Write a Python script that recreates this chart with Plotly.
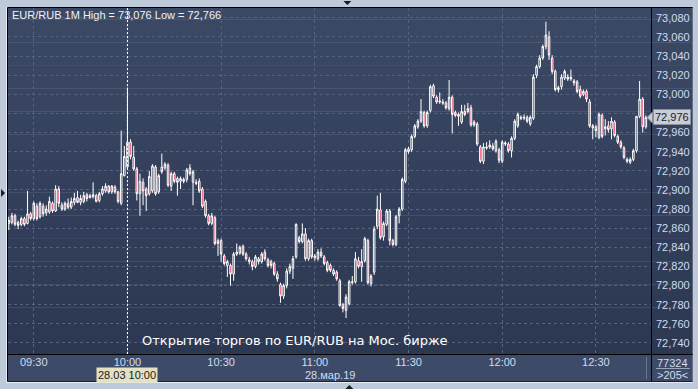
import plotly.graph_objects as go
import pandas as pd

# ---------------- data (EUR/RUB, 1-minute candles, 28.03.2019) ----------------
start_time = "2019-03-28 09:22"
opens = [72.865, 72.866, 72.873, 72.866, 72.864, 72.870, 72.865, 72.875, 72.870, 72.883,
         72.872, 72.883, 72.876, 72.877, 72.886, 72.878, 72.901, 72.884, 72.880, 72.886,
         72.882, 72.887, 72.892, 72.887, 72.888, 72.895, 72.892, 72.893, 72.894, 72.889,
         72.896, 72.899, 72.904, 72.898, 72.903, 72.898, 72.886, 72.915, 72.924, 72.950,
         72.934, 72.922, 72.896, 72.908, 72.901, 72.896, 72.899, 72.924, 72.898, 72.924,
         72.923, 72.926, 72.904, 72.917, 72.912, 72.909, 72.911, 72.911, 72.923, 72.908,
         72.908, 72.909, 72.901, 72.888, 72.873, 72.865, 72.871, 72.847, 72.847, 72.831,
         72.821, 72.821, 72.812, 72.833, 72.834, 72.841, 72.833, 72.827, 72.825, 72.820,
         72.828, 72.825, 72.835, 72.827, 72.825, 72.823, 72.812, 72.801, 72.789, 72.800,
         72.815, 72.818, 72.830, 72.850, 72.846, 72.854, 72.828, 72.847, 72.831, 72.828,
         72.835, 72.830, 72.824, 72.821, 72.816, 72.814, 72.805, 72.780, 72.774, 72.781,
         72.803, 72.804, 72.826, 72.820, 72.826, 72.847, 72.802, 72.814, 72.862, 72.879,
         72.851, 72.864, 72.878, 72.847, 72.843, 72.873, 72.880, 72.909, 72.943, 72.942,
         72.956, 72.966, 72.972, 72.981, 72.967, 72.983, 73.009, 72.997, 72.992, 72.992,
         72.991, 72.985, 72.997, 72.981, 72.979, 72.971, 72.982, 72.982, 72.986, 72.971,
         72.969, 72.945, 72.930, 72.945, 72.945, 72.946, 72.941, 72.942, 72.930, 72.948,
         72.948, 72.941, 72.954, 72.967, 72.976, 72.975, 72.976, 72.969, 72.975, 73.020,
         73.029, 73.038, 73.050, 73.060, 73.038, 73.024, 73.007, 73.008, 73.017, 73.018,
         73.018, 73.014, 73.013, 73.005, 73.000, 73.003, 72.992, 72.967, 72.966, 72.955,
         72.978, 72.964, 72.967, 72.964, 72.971, 72.956, 72.950, 72.944, 72.932, 72.929,
         72.932, 72.941, 72.977, 72.995, 72.966]
highs = [72.872, 72.876, 72.875, 72.868, 72.872, 72.872, 72.899, 72.877, 72.888, 72.886,
         72.888, 72.886, 72.884, 72.893, 72.888, 72.905, 72.904, 72.887, 72.888, 72.891,
         72.892, 72.897, 72.899, 72.895, 72.898, 72.897, 72.896, 72.908, 72.896, 72.898,
         72.904, 72.907, 72.905, 72.905, 72.905, 72.899, 72.962, 72.946, 73.007, 72.953,
         72.946, 72.924, 72.917, 72.912, 72.903, 72.920, 72.927, 72.926, 72.917, 72.938,
         72.929, 72.928, 72.919, 72.919, 72.914, 72.914, 72.913, 72.923, 72.927, 72.921,
         72.911, 72.912, 72.903, 72.890, 72.875, 72.876, 72.873, 72.849, 72.849, 72.833,
         72.827, 72.823, 72.835, 72.844, 72.842, 72.843, 72.835, 72.830, 72.827, 72.832,
         72.830, 72.835, 72.838, 72.829, 72.827, 72.825, 72.815, 72.803, 72.802, 72.818,
         72.823, 72.831, 72.865, 72.852, 72.865, 72.860, 72.849, 72.849, 72.833, 72.838,
         72.839, 72.832, 72.826, 72.823, 72.818, 72.816, 72.807, 72.782, 72.791, 72.806,
         72.810, 72.835, 72.830, 72.838, 72.851, 72.849, 72.812, 72.862, 72.894, 72.897,
         72.867, 72.880, 72.880, 72.849, 72.874, 72.882, 72.913, 72.944, 72.945, 72.958,
         72.969, 72.974, 72.995, 72.983, 72.983, 73.010, 73.011, 72.999, 73.002, 72.995,
         72.993, 73.015, 72.999, 72.983, 72.981, 72.989, 72.989, 72.991, 72.989, 72.973,
         72.971, 72.947, 72.949, 72.950, 72.952, 72.949, 72.953, 72.944, 72.952, 72.951,
         72.950, 72.956, 72.974, 72.981, 72.978, 72.979, 72.978, 72.978, 73.021, 73.031,
         73.041, 73.052, 73.076, 73.066, 73.041, 73.026, 73.009, 73.021, 73.026, 73.021,
         73.026, 73.016, 73.015, 73.009, 73.005, 73.005, 72.995, 72.969, 72.968, 72.981,
         72.980, 72.974, 72.972, 72.976, 72.973, 72.958, 72.952, 72.946, 72.934, 72.934,
         72.943, 72.977, 73.014, 72.997, 72.978]
lows = [72.858, 72.864, 72.862, 72.859, 72.862, 72.862, 72.864, 72.868, 72.868, 72.868,
        72.870, 72.872, 72.873, 72.875, 72.876, 72.877, 72.882, 72.878, 72.878, 72.880,
        72.880, 72.884, 72.886, 72.884, 72.886, 72.888, 72.891, 72.891, 72.887, 72.887,
        72.894, 72.897, 72.896, 72.896, 72.896, 72.886, 72.884, 72.914, 72.922, 72.932,
        72.920, 72.889, 72.873, 72.884, 72.878, 72.894, 72.897, 72.894, 72.896, 72.917,
        72.921, 72.903, 72.899, 72.907, 72.894, 72.901, 72.907, 72.908, 72.915, 72.884,
        72.905, 72.897, 72.881, 72.871, 72.863, 72.863, 72.842, 72.831, 72.825, 72.821,
        72.809, 72.800, 72.805, 72.831, 72.832, 72.831, 72.826, 72.822, 72.816, 72.818,
        72.822, 72.823, 72.826, 72.819, 72.818, 72.810, 72.804, 72.782, 72.786, 72.797,
        72.812, 72.807, 72.828, 72.844, 72.844, 72.826, 72.826, 72.828, 72.826, 72.826,
        72.829, 72.821, 72.814, 72.814, 72.810, 72.805, 72.778, 72.772, 72.766, 72.779,
        72.801, 72.802, 72.818, 72.804, 72.824, 72.801, 72.799, 72.811, 72.859, 72.848,
        72.847, 72.862, 72.842, 72.841, 72.841, 72.865, 72.878, 72.907, 72.938, 72.940,
        72.954, 72.964, 72.970, 72.965, 72.965, 72.981, 72.996, 72.990, 72.990, 72.989,
        72.984, 72.983, 72.959, 72.976, 72.967, 72.969, 72.977, 72.980, 72.966, 72.966,
        72.946, 72.928, 72.927, 72.942, 72.943, 72.941, 72.939, 72.928, 72.928, 72.946,
        72.939, 72.934, 72.952, 72.965, 72.973, 72.973, 72.970, 72.967, 72.973, 73.017,
        73.027, 73.036, 73.047, 73.036, 73.021, 73.003, 73.002, 73.005, 73.015, 73.014,
        73.014, 73.009, 73.001, 72.996, 72.998, 72.992, 72.965, 72.953, 72.955, 72.953,
        72.954, 72.957, 72.960, 72.953, 72.955, 72.948, 72.943, 72.932, 72.928, 72.927,
        72.930, 72.939, 72.975, 72.960, 72.964]
closes = [72.868, 72.873, 72.864, 72.863, 72.870, 72.864, 72.875, 72.870, 72.886, 72.870,
          72.886, 72.875, 72.880, 72.888, 72.878, 72.901, 72.886, 72.880, 72.886, 72.882,
          72.888, 72.891, 72.887, 72.891, 72.894, 72.891, 72.894, 72.895, 72.888, 72.896,
          72.901, 72.904, 72.898, 72.904, 72.898, 72.888, 72.917, 72.935, 72.950, 72.935,
          72.922, 72.896, 72.909, 72.899, 72.894, 72.914, 72.925, 72.896, 72.915, 72.919,
          72.927, 72.905, 72.917, 72.909, 72.908, 72.912, 72.909, 72.921, 72.917, 72.919,
          72.907, 72.899, 72.883, 72.873, 72.865, 72.873, 72.844, 72.844, 72.833, 72.823,
          72.825, 72.812, 72.833, 72.835, 72.840, 72.833, 72.828, 72.825, 72.820, 72.830,
          72.825, 72.833, 72.828, 72.821, 72.821, 72.812, 72.807, 72.789, 72.800, 72.815,
          72.820, 72.828, 72.864, 72.846, 72.854, 72.828, 72.847, 72.830, 72.829, 72.835,
          72.831, 72.823, 72.816, 72.816, 72.812, 72.807, 72.779, 72.776, 72.788, 72.804,
          72.804, 72.828, 72.820, 72.825, 72.849, 72.803, 72.810, 72.859, 72.880, 72.850,
          72.865, 72.878, 72.847, 72.843, 72.872, 72.880, 72.911, 72.942, 72.940, 72.956,
          72.967, 72.972, 72.982, 72.967, 72.981, 73.008, 72.998, 72.992, 72.993, 72.991,
          72.986, 72.997, 72.979, 72.978, 72.977, 72.982, 72.979, 72.985, 72.968, 72.968,
          72.948, 72.930, 72.945, 72.944, 72.947, 72.943, 72.951, 72.931, 72.950, 72.949,
          72.941, 72.954, 72.972, 72.979, 72.975, 72.976, 72.972, 72.976, 73.018, 73.029,
          73.038, 73.050, 73.062, 73.041, 73.024, 73.005, 73.005, 73.018, 73.024, 73.016,
          73.016, 73.012, 73.003, 72.998, 73.003, 72.995, 72.967, 72.965, 72.962, 72.979,
          72.956, 72.966, 72.963, 72.972, 72.957, 72.950, 72.945, 72.934, 72.930, 72.932,
          72.941, 72.977, 72.995, 72.966, 72.976]

time_ticks = ["09:30", "10:00", "10:30", "11:00", "11:30", "12:00", "12:30"]
price_ticks = [72.74, 72.76, 72.78, 72.80, 72.82, 72.84, 72.86, 72.88, 72.90,
               72.92, 72.94, 72.96, 72.98, 73.00, 73.02, 73.04, 73.06, 73.08]
last_price = 72.976
cursor_time = "2019-03-28 10:00"
header_text = "EUR/RUB 1M High = 73,076 Low = 72,766"
note_text = "Открытие торгов по EUR/RUB на Мос. бирже"
date_text = "28.мар.19"
cursor_text = "28.03 10:00"
volume_text = "77324"
count_text = ">205<"

times = pd.date_range(start_time, periods=len(opens), freq="1min")
tick_vals = [pd.Timestamp("2019-03-28 " + t) for t in time_ticks]


def fmt_price(v):
    return f"{v:.3f}".replace(".", ",")


# the label hidden behind the last-price marker is left blank (gridline kept)
price_tick_text = ["" if abs(v - last_price) < 0.01 else fmt_price(v) for v in price_ticks]

# ---------------- geometry helpers (pixel -> paper) ----------------
W, H = 698, 389
L, R, T, B = 8, 656, 8, 354
PW, PH = R - L, B - T


def px(x):
    return (x - L) / PW


def py(y):
    return (B - y) / PH


fig = go.Figure()

fig.add_trace(go.Candlestick(
    x=times, open=opens, high=highs, low=lows, close=closes,
    increasing=dict(line=dict(color="#ffffff", width=1), fillcolor="rgba(0,0,0,0)"),
    decreasing=dict(line=dict(color="#ffffff", width=1), fillcolor="#e0103c"),
    whiskerwidth=0, showlegend=False, hoverinfo="skip",
))

shapes = []
# background gradient (plot + right scale strip)
n_bands = 30
top_rgb = (60, 73, 101)
bot_rgb = (44, 56, 82)
for k in range(n_bands):
    f = k / (n_bands - 1)
    c = tuple(round(top_rgb[j] + (bot_rgb[j] - top_rgb[j]) * f) for j in range(3))
    y0 = T + PH * k / n_bands
    y1 = T + PH * (k + 1) / n_bands
    shapes.append(dict(type="rect", xref="paper", yref="paper", layer="below",
                       x0=px(L), x1=px(W), y0=py(y1), y1=py(y0) + 0.001,
                       line=dict(width=0), fillcolor="rgb(%d,%d,%d)" % c))
# bottom time strip
shapes.append(dict(type="rect", xref="paper", yref="paper", layer="below",
                   x0=px(L), x1=px(W), y0=py(381), y1=py(B),
                   line=dict(width=0), fillcolor="#3e4b68"))
# frame lines
shapes.append(dict(type="line", xref="paper", yref="paper", layer="above",
                   x0=px(7.5), x1=px(7.5), y0=py(381.5), y1=py(7.5),
                   line=dict(color="#000000", width=1)))
shapes.append(dict(type="line", xref="paper", yref="paper", layer="above",
                   x0=px(7.5), x1=px(W), y0=py(7.5), y1=py(7.5),
                   line=dict(color="#000000", width=1)))
shapes.append(dict(type="line", xref="paper", yref="paper", layer="above",
                   x0=px(7.5), x1=px(W), y0=py(381.5), y1=py(381.5),
                   line=dict(color="#1a2030", width=1)))
shapes.append(dict(type="line", xref="paper", yref="paper", layer="above",
                   x0=px(6.5), x1=px(W), y0=py(382.5), y1=py(382.5),
                   line=dict(color="#e8edf4", width=1)))
shapes.append(dict(type="line", xref="paper", yref="paper", layer="above",
                   x0=px(6.5), x1=px(6.5), y0=py(382.5), y1=py(7),
                   line=dict(color="#e8edf4", width=1)))
shapes.append(dict(type="line", xref="paper", yref="paper", layer="above",
                   x0=px(R + 0.5), x1=px(R + 0.5), y0=py(381), y1=py(8),
                   line=dict(color="#000000", width=1)))
shapes.append(dict(type="line", xref="paper", yref="paper", layer="above",
                   x0=px(8), x1=px(W), y0=py(B + 0.5), y1=py(B + 0.5),
                   line=dict(color="#000000", width=1)))
# small separator in bottom right strip
shapes.append(dict(type="line", xref="paper", yref="paper", layer="above",
                   x0=px(651.5), x1=px(651.5), y0=py(379), y1=py(357),
                   line=dict(color="#6a7690", width=1)))
shapes.append(dict(type="line", xref="paper", yref="paper", layer="above",
                   x0=px(661), x1=px(695), y0=py(368.5), y1=py(368.5),
                   line=dict(color="#9aa6bc", width=1)))
# crosshair
shapes.append(dict(type="line", xref="x", yref="paper", layer="above",
                   x0=cursor_time, x1=cursor_time, y0=0, y1=1,
                   line=dict(color="#ffffff", width=1, dash="2px,2px")))
# edge markers (tiny triangles)
for pth in [
    "M %f,%f L %f,%f L %f,%f Z" % (px(346), py(1), px(354), py(1), px(350), py(5)),
    "M %f,%f L %f,%f L %f,%f Z" % (px(1), py(189), px(1), py(197), px(5), py(193)),
    "M %f,%f L %f,%f L %f,%f Z" % (px(348), py(389), px(356), py(389), px(352), py(385)),
]:
    shapes.append(dict(type="path", xref="paper", yref="paper", path=pth,
                       fillcolor="#1a1a1a", line=dict(width=0)))
# price marker arrow
shapes.append(dict(type="path", xref="paper", yref="paper", layer="above",
                   path="M %f,%f L %f,%f L %f,%f Z" % (px(652), py(117.5), px(657.5), py(112),
                                                         px(657.5), py(123)),
                   fillcolor="#c9cdd6", line=dict(color="#8a8f99", width=1)))

annotations = [
    dict(xref="paper", yref="paper", x=px(10), y=py(15), xanchor="left", yanchor="middle",
         text=header_text, showarrow=False,
         font=dict(family="Liberation Sans, Arial, sans-serif", size=11, color="#eef2f8")),
    dict(xref="paper", yref="paper", x=px(297), y=py(340), xanchor="center", yanchor="middle",
         text=note_text, showarrow=False,
         font=dict(family="DejaVu Sans, Verdana, sans-serif", size=13, color="#ffffff")),
    dict(xref="paper", yref="paper", x=px(333), y=py(375), xanchor="center", yanchor="middle",
         text=date_text, showarrow=False,
         font=dict(family="Liberation Sans, Arial, sans-serif", size=11, color="#d0dcf0")),
    dict(xref="x", yref="paper", x=cursor_time, y=py(374.5), xanchor="center", yanchor="middle",
         text=cursor_text, showarrow=False, bgcolor="#e4e1c2", borderpad=1,
         font=dict(family="Liberation Sans, Arial, sans-serif", size=11, color="#1a1a1a")),
    dict(xref="paper", yref="y", x=px(677), y=last_price, xanchor="center", yanchor="middle",
         text=fmt_price(last_price), showarrow=False, bgcolor="#c9cdd6",
         bordercolor="#8a8f99", borderwidth=1, borderpad=1,
         font=dict(family="Liberation Sans, Arial, sans-serif", size=11, color="#1a1a2a")),
    dict(xref="paper", yref="paper", x=px(677.5), y=py(362.5), xanchor="center", yanchor="middle",
         text=volume_text, showarrow=False,
         font=dict(family="Liberation Sans, Arial, sans-serif", size=11, color="#d0dcf0")),
    dict(xref="paper", yref="paper", x=px(677.5), y=py(375), xanchor="center", yanchor="middle",
         text=count_text, showarrow=False,
         font=dict(family="Liberation Sans, Arial, sans-serif", size=11, color="#d0dcf0")),
]

fig.update_layout(
    width=W, height=H,
    margin=dict(l=L, r=W - R, t=T, b=H - B, pad=0),
    paper_bgcolor="#bec9d9",
    plot_bgcolor="rgba(0,0,0,0)",
    separators=", ",
    shapes=shapes,
    annotations=annotations,
    font=dict(family="Liberation Sans, Arial, sans-serif", size=11, color="#d0dcf0"),
    xaxis=dict(
        type="date",
        range=["2019-03-28 09:21:45", "2019-03-28 12:47:39"],
        rangeslider=dict(visible=False),
        tickvals=tick_vals, ticktext=time_ticks,
        showgrid=True, gridcolor="#56637e", griddash="3px,3px", gridwidth=1,
        ticks="", ticklabelstandoff=0,
        tickfont=dict(family="Liberation Sans, Arial, sans-serif", size=11, color="#d0dcf0"),
        showline=False, zeroline=False, fixedrange=True,
    ),
    yaxis=dict(
        side="right",
        range=[72.7284, 73.0903],
        tickvals=price_ticks, ticktext=price_tick_text,
        showgrid=True, gridcolor="#56637e", griddash="3px,3px", gridwidth=1,
        ticks="", ticklabelstandoff=4,
        tickfont=dict(family="Liberation Sans, Arial, sans-serif", size=11, color="#d0dcf0"),
        showline=False, zeroline=False, fixedrange=True,
    ),
    hovermode=False,
)

fig.write_html("out.html", config={"displayModeBar": False})
